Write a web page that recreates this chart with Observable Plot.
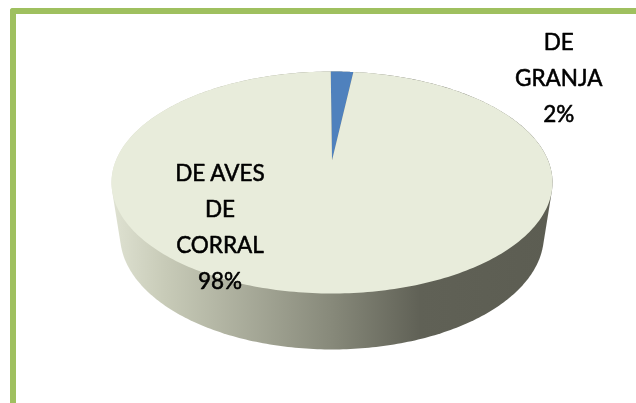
<!DOCTYPE html>
<html><head><meta charset="utf-8">
<script src="https://cdn.jsdelivr.net/npm/d3@7"></script>
<script src="https://cdn.jsdelivr.net/npm/@observablehq/plot@0.6"></script>
<style>
html,body{margin:0;padding:0;background:#fff;overflow:hidden}
#wrap{position:relative;width:636px;height:403px;filter:blur(0.45px)}
#frame{position:absolute;left:10px;top:8px;right:-10px;bottom:-10px;border-top:6px solid #9fc05f;border-left:6px solid #9fc05f;border-top-left-radius:3px}
#chart{position:absolute;left:0;top:0}
</style></head><body>
<div id="wrap"><div id="chart"></div><div id="frame"></div></div>
<script>
const categories = ["DE GRANJA", "DE AVES DE CORRAL"];
const shares = [2, 98];
const labels = ["DE\nGRANJA\n2%", "DE AVES\nDE\nCORRAL\n98%"];
const colors = ["#4f81bd", "#e8ecdb"];

const perspective = 0.198;
const startAngle = -0.4;
const project = (deg) => {
  const t = deg * Math.PI / 180, u = Math.sin(t), v = -Math.cos(t);
  const d = 1 - perspective * v;
  return {x: u * Math.sqrt(1 - perspective ** 2) / d, y: (v - perspective) / d};
};
const sweep = (from, to) => d3.range(0, 361).map(i => project(from + (to - from) * i / 360));
const apex = {x: 0, y: -perspective};
const slices = [];
let a = startAngle;
shares.forEach((s, i) => {
  const b = a + s * 3.6;
  [apex, ...sweep(a, b)].forEach(p => slices.push({...p, category: categories[i]}));
  a = b;
});
const circle = d3.range(0, 361).map(i => ({x: Math.cos(i * Math.PI / 180), y: Math.sin(i * Math.PI / 180)}));
const bottom = circle.map(p => ({x: p.x * 0.961, y: p.y * 1.027 + 0.477}));
const wall = d3.polygonHull([...circle, ...bottom].map(p => [p.x, p.y])).map(([x, y]) => ({x, y}));
wall.push(wall[0]);
const labelRows = [{x: 1.028, y: -0.975, text: labels[0]}, {x: -0.508, y: 0.365, text: labels[1]}];

const chart = Plot.plot({
  width: 636, height: 403, margin: 0,
  x: {domain: [-1, 1], range: [111, 552], axis: null},
  y: {domain: [-1, 1], range: [71, 293], axis: null},
  color: {domain: categories, range: colors},
  marks: [
    () => {
      const s = d3.create("svg:defs");
      const g = s.append("linearGradient").attr("id", "wallg").attr("x1", 0).attr("x2", 1).attr("y1", 0).attr("y2", 0);
      [[0, "#dfe2d2"], [0.12, "#c8cbb8"], [0.5, "#87897a"], [0.7, "#606156"], [1, "#5c5d52"]]
        .forEach(([o, c]) => g.append("stop").attr("offset", o).attr("stop-color", c));
      return s.node();
    },
    Plot.line(wall, {x: "x", y: "y", fill: "url(#wallg)", stroke: "none", curve: "linear"}),
    Plot.line(slices, {x: "x", y: "y", z: "category", fill: "category", stroke: "none", curve: "linear"}),
    Plot.text(labelRows, {x: "x", y: "y", text: "text", lineHeight: 1.6, fontSize: 22.5, fill: "#000", fontFamily: "Lato", lineAnchor: "middle", stroke: "#000", strokeWidth: 0.55})
  ]
});
document.getElementById("chart").appendChild(chart);
</script></body></html>
